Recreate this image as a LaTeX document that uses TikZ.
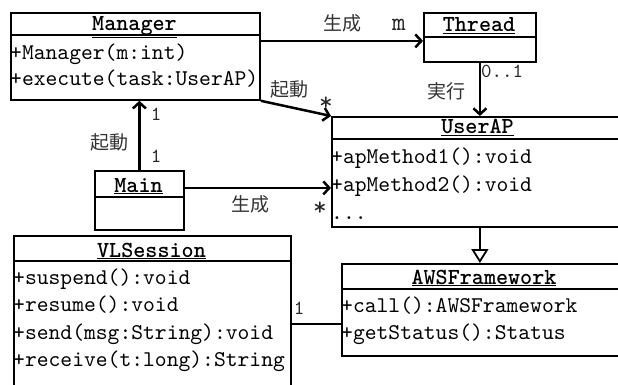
\documentclass[tikz,border=0pt]{standalone}
\usepackage{fontspec}
\newfontfamily\jpfont{Noto Sans CJK JP}
\newfontfamily\codefont{lmmono10-regular.otf}[BoldFont=lmmonolt10-bold.otf]
\usetikzlibrary{arrows.meta}
\tikzset{
  classbox/.style={draw, line width=1.8pt, inner sep=0pt, anchor=north west},
  divider/.style={line width=1.8pt},
  classname/.style={font=\codefont\bfseries\fontsize{23}{23}\selectfont, inner sep=0pt, anchor=base},
  member/.style={font=\codefont\fontsize{22.5}{22.5}\selectfont, inner sep=0pt, anchor=base west},
  assoc/.style={line width=2.5pt, -{Straight Barb[length=6pt,width=13pt,line width=2.5pt]}},
  plainlink/.style={line width=2.5pt},
  inherit/.style={line width=2.5pt, -{Triangle[open,length=14pt,width=17pt,line width=1.8pt]}},
  jlabel/.style={font=\jpfont\fontsize{19}{19}\selectfont, text=black!80, inner sep=0pt},
  mult/.style={font=\codefont\fontsize{20}{20}\selectfont, text=black!85, inner sep=0pt},
  bigmult/.style={mult, font=\codefont\fontsize{26}{26}\selectfont},
}
\begin{document}
\begin{tikzpicture}[x=1pt,y=-1pt]
\useasboundingbox (0,0) rectangle (618,385);
\clip (0,0) rectangle (618,385);

% ---- Manager ----
\node[classbox, minimum width=249pt, minimum height=87pt] (manager) at (10,12) {};
\draw[divider] (manager.north west) ++(0,23) -- ++(249,0);
\node[classname] (managerT) at (134.5,31) {\underline{Manager}};
\node[member] (managerM1) at (10,60) {+Manager(m:int)};
\node[member] (managerM2) at (10,86) {+execute(task:UserAP)};

% ---- Thread ----
\node[classbox, minimum width=112pt, minimum height=49pt] (thread) at (423,12) {};
\draw[divider] (thread.north west) ++(0,25) -- ++(112,0);
\node[classname] (threadT) at (479,32) {\underline{Thread}};

% ---- UserAP ----
\node[classbox, minimum width=293pt, minimum height=110pt] (userap) at (331,116) {};
\draw[divider] (userap.north west) ++(0,23) -- ++(293,0);
\node[classname] (userapT) at (477.5,134) {\underline{UserAP}};
\node[member] (userapM1) at (331,163) {+apMethod1():void};
\node[member] (userapM2) at (331,191) {+apMethod2():void};
\node[member] (userapM3) at (331,219) {...};

% ---- Main ----
\node[classbox, minimum width=89pt, minimum height=59pt] (main) at (94,170) {};
\draw[divider] (main.north west) ++(0,27) -- ++(89,0);
\node[classname] (mainT) at (138.5,192) {\underline{Main}};

% ---- VLSession ----
\node[classbox, minimum width=277pt, minimum height=180pt] (vls) at (13,235) {};
\draw[divider] (vls.north west) ++(0,26) -- ++(277,0);
\node[classname] (vlsT) at (151.5,257) {\underline{VLSession}};
\node[member] (vlsM1) at (13,284) {+suspend():void};
\node[member] (vlsM2) at (13,311) {+resume():void};
\node[member] (vlsM3) at (13,339) {+send(msg:String):void};
\node[member] (vlsM4) at (13,366) {+receive(t:long):String};

% ---- AWSFramework ----
\node[classbox, minimum width=286pt, minimum height=92pt] (awsf) at (341,263) {};
\draw[divider] (awsf.north west) ++(0,26) -- ++(286,0);
\node[classname] (awsfT) at (484,284) {\underline{AWSFramework}};
\node[member] (awsfM1) at (341,312) {+call():AWSFramework};
\node[member] (awsfM2) at (341,339) {+getStatus():Status};

% ---- connectors ----
\coordinate (threadIn) at ([yshift=-3.5pt]thread.west);
\draw[assoc] (manager.east |- threadIn) -- (threadIn);
\draw[assoc] (thread.south) -- (thread.south |- userap.north);
\draw[assoc] (manager.south east) -- (userap.north west);
\draw[assoc] (main.north) -- (main.north |- manager.south);
\coordinate (mainOut) at ([yshift=12.5pt]main.east);
\draw[assoc] (mainOut) -- (mainOut -| userap.west);
\coordinate (awsfIn) at ([yshift=-14pt]awsf.west);
\draw[plainlink] (vls.east |- awsfIn) -- (awsfIn);
\draw[inherit] (thread.south |- userap.south) -- (thread.south |- awsf.north);

% ---- labels ----
\node[jlabel] (lblCreate1) at (342,23) {生成};
\node[bigmult] (multM) at (399,25) {m};
\node[mult] (mult01) at (502,71) {0..1};
\node[jlabel] (lblRun) at (446.5,91.5) {実行};
\node[jlabel] (lblStart1) at (289,89.5) {起動};
\node[bigmult] (multStar1) at (326,104) {*};
\node[mult] (multOne1) at (156,114) {1};
\node[mult] (multOne2) at (156,156.5) {1};
\node[jlabel] (lblStart2) at (109,142.5) {起動};
\node[jlabel] (lblCreate2) at (250,204.5) {生成};
\node[bigmult] (multStar2) at (320,209) {*};
\node[mult] (multOne3) at (299,308.5) {1};
\end{tikzpicture}
\end{document}
